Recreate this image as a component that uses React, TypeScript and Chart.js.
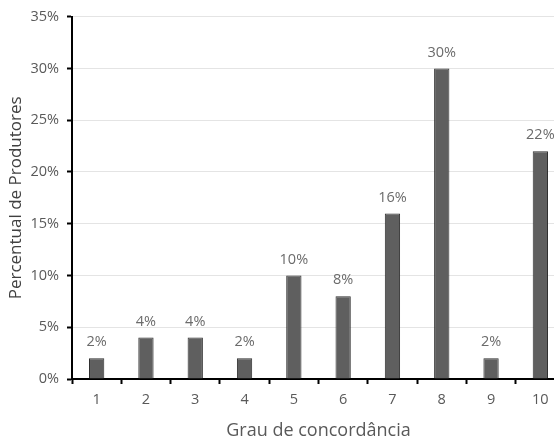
import React, { useEffect, useRef } from "react";
import { Chart, registerables } from "chart.js";

Chart.register(...registerables);

const categories = ["1", "2", "3", "4", "5", "6", "7", "8", "9", "10"];
const values = [2, 4, 4, 2, 10, 8, 16, 30, 2, 22];
const yTicks = [0, 5, 10, 15, 20, 25, 30, 35];
const yTitle = "Percentual de Produtores";
const xTitle = "Grau de concordância";

const FONT = "'Open Sans', 'Noto Sans', sans-serif";

const labelPlugin = {
  id: "barLabels",
  afterDatasetsDraw(chart: any) {
    const ctx = chart.ctx;
    const meta = chart.getDatasetMeta(0);
    ctx.save();
    ctx.font = `14.5px ${FONT}`;
    ctx.fillStyle = "#6b6b6b";
    ctx.textAlign = "center";
    ctx.textBaseline = "middle";
    meta.data.forEach((bar: any, i: number) => {
      ctx.fillText(`${values[i]}%`, bar.x, bar.y - 16);
    });
    ctx.restore();
  },
};

export default function App() {
  const ref = useRef<HTMLCanvasElement | null>(null);
  useEffect(() => {
    if (!ref.current) return;
    const chart = new Chart(ref.current, {
      type: "bar",
      data: {
        labels: categories,
        datasets: [
          {
            data: values,
            backgroundColor: "#5f5f5f",
            borderColor: "#2e2e2e",
            borderWidth: 1,
            barPercentage: 0.62,
            categoryPercentage: 0.5,
          },
        ],
      },
      options: {
        animation: false,
        responsive: false,
        layout: { padding: { top: 16, right: 15, left: 0, bottom: 0 } },
        plugins: { legend: { display: false }, tooltip: { enabled: false } },
        scales: {
          x: {
            offset: true,
            grid: {
              offset: true,
              drawOnChartArea: false,
              drawTicks: true,
              tickLength: 5,
              tickColor: "#000",
              tickWidth: 2,
            },
            border: { color: "#000", width: 2 },
            ticks: { color: "#595959", font: { family: FONT, size: 14.5 }, padding: 7 },
            title: {
              display: true,
              text: xTitle,
              color: "#595959",
              font: { family: FONT, size: 18 },
              padding: { top: 0, bottom: 0 },
            },
            afterFit(scale: any) {
              scale.height = 63;
            },
          },
          y: {
            min: 0,
            max: 35,
            afterBuildTicks(scale: any) {
              scale.ticks = yTicks.map((v) => ({ value: v }));
            },
            grid: {
              color: (c: any) => (c.tick && c.tick.value === 0 ? "rgba(0,0,0,0)" : "#e4e4e4"),
              lineWidth: 1,
              drawTicks: true,
              tickLength: 5,
              tickColor: "#000",
              tickWidth: 2,
            },
            border: { color: "#000", width: 2 },
            ticks: {
              color: "#595959",
              font: { family: FONT, size: 14.5 },
              padding: 8,
              callback: (v: any) => `${v}%`,
            },
            title: {
              display: true,
              text: yTitle,
              color: "#404040",
              font: { family: FONT, size: 17 },
              padding: { top: 6, bottom: 0 },
            },
            afterFit(scale: any) {
              scale.width = 72;
            },
          },
        },
      },
      plugins: [labelPlugin],
    });
    return () => chart.destroy();
  }, []);
  return (
    <div style={{ position: "absolute", left: 0, top: 0, width: 554, height: 439, overflow: "hidden", background: "#fff" }}>
      <canvas ref={ref} width={580} height={442} style={{ display: "block" }} />
    </div>
  );
}
